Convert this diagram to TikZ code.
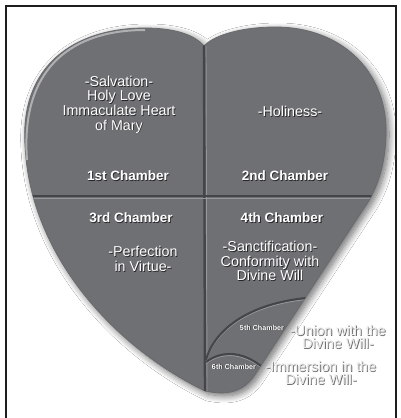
\documentclass[tikz,border=0pt]{standalone}
\usepackage{fontspec}
\setmainfont{Liberation Sans}
\usetikzlibrary{shadows.blur}
\definecolor{heartgray}{RGB}{111,112,116}
\definecolor{groovecol}{RGB}{68,69,72}
\definecolor{rimcol}{RGB}{150,151,155}
\definecolor{shd}{RGB}{38,38,40}
\definecolor{olcol}{RGB}{110,110,112}
\definecolor{outtxt}{RGB}{236,236,236}
\definecolor{framecol}{RGB}{30,30,30}
\newcommand\sh[1]{\rlap{\kern0.8pt\raisebox{-0.8pt}{\textcolor{shd}{#1}}}#1}
\newcommand\ot[1]{\rlap{\kern0.9pt\raisebox{-0.9pt}{\textcolor{olcol}{#1}}}\textcolor{outtxt}{#1}}
\def\heartpath{(205,391) .. controls (120,350) and (30,260) .. (25,145)
  .. controls (20,65) and (75,28) .. (145,28)
  .. controls (175,28) and (195,35) .. (204,46)
  .. controls (215,34) and (245,27) .. (275,27)
  .. controls (345,27) and (388,75) .. (386,135)
  .. controls (385,165) and (378,185) .. (368,202)
  -- (254,376)
  .. controls (240,396) and (220,394) .. (205,391) -- cycle}
\tikzset{
  desc/.style={text=white, font=\fontsize{14.3}{14.6}\selectfont, align=center, inner sep=0pt},
  title/.style={text=white, font=\bfseries\fontsize{13.5}{15}\selectfont, inner sep=0pt},
  smalltitle/.style={text=white, font=\bfseries\fontsize{7.2}{8}\selectfont, inner sep=0pt},
  outer/.style={font=\fontsize{14.3}{13}\selectfont, align=center, inner sep=0pt},
  groove/.style={draw=groovecol, line width=2.4pt},
  grooverim/.style={draw=rimcol, line width=0.9pt},
}
\begin{document}
\begin{tikzpicture}[x=1pt,y=-1pt]
\useasboundingbox (0,0) rectangle (401,418);
\fill[white] (0,0) rectangle (401,418);
% frame
\draw[framecol, line width=1.5pt] (5.75,418) -- (5.75,5.75) -- (396,5.75) -- (396,418);
% heart with shadow
\path[fill=heartgray, draw=groovecol!80, line width=0.8pt,
  blur shadow={shadow xshift=3pt, shadow yshift=-3pt, shadow blur radius=7pt, shadow blur steps=12, shadow opacity=60}] \heartpath;
\begin{scope}
  \clip \heartpath;
  % rim highlight
  \draw[white, opacity=0.45, line width=2pt] (27,160) .. controls (20,65) and (75,30) .. (145,30);
  % vertical groove
  \draw[grooverim, xshift=2pt] (204,46) -- (205,395);
  \draw[groove] (204,40) -- (205,395);
  % horizontal groove
  \draw[grooverim, yshift=-2pt] (15,196) -- (395,196);
  \draw[groove] (15,196) -- (395,196);
  % 5th chamber arc
  \draw[grooverim, yshift=-1.6pt] (206,360) .. controls (214,330) and (250,300) .. (320,297);
  \draw[groove, line width=2pt] (206,360) .. controls (214,330) and (250,300) .. (320,297);
  % 6th chamber arc
  \draw[grooverim, yshift=-1.6pt] (206,362) .. controls (222,350) and (245,350) .. (268,372);
  \draw[groove, line width=2pt] (206,362) .. controls (222,350) and (245,350) .. (268,372);
\end{scope}
% texts
\node[desc] (d1) at (119,105) {\sh{-Salvation-}\\\sh{Holy Love}\\\sh{Immaculate Heart}\\\sh{of Mary}};
\node[title] (c1) at (128,176) {\sh{1st Chamber}};
\node[desc] (d2) at (290,112) {\sh{-Holiness-}};
\node[title] (c2) at (285,176) {\sh{2nd Chamber}};
\node[title] (c3) at (131,218) {\sh{3rd Chamber}};
\node[title] (c4) at (282,218) {\sh{4th Chamber}};
\node[desc] (d3) at (143,259.5) {\sh{-Perfection}\\\sh{in Virtue-}};
\node[desc] (d4) at (270,261.5) {\sh{-Sanctification-}\\\sh{Conformity with}\\\sh{Divine Will}};
\node[smalltitle] (c5) at (262,328) {\sh{5th Chamber}};
\node[smalltitle] (c6) at (234,367) {\sh{6th Chamber}};
\node[outer] (d5) at (338,337) {\ot{-Union with the}\\\ot{Divine Will-}};
\node[outer] (d6) at (321,373) {\ot{-Immersion in the}\\\ot{Divine Will-}};
\end{tikzpicture}
\end{document}
